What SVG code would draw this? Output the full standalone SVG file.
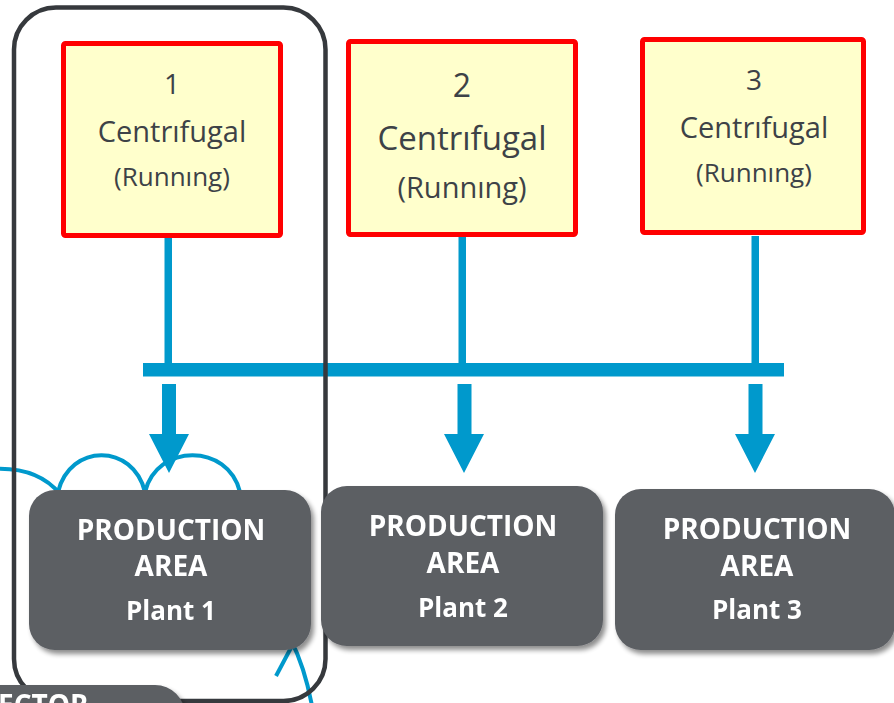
<svg xmlns="http://www.w3.org/2000/svg" width="894" height="703" viewBox="0 0 894 703">
  <defs>
    <filter id="sh" x="-10%" y="-10%" width="125%" height="130%">
      <feGaussianBlur in="SourceAlpha" stdDeviation="2.5"/>
      <feOffset dx="3" dy="4" result="b"/>
      <feComponentTransfer><feFuncA type="linear" slope="0.45"/></feComponentTransfer>
      <feMerge><feMergeNode/><feMergeNode in="SourceGraphic"/></feMerge>
    </filter>
  </defs>
  <style>
    .comp rect { fill: #ffffcc; stroke: #ff0000; stroke-width: 5; }
    .comp text { font-family: "Open Sans", "Noto Sans", sans-serif; fill: #3d4247; text-anchor: middle; }
    .area rect { fill: #5b5e63; }
    .area text { font-family: "Open Sans", "Noto Sans", sans-serif; fill: #ffffff; font-weight: bold; text-anchor: middle; }
    .blue { fill: #0099cc; }
    .wire { fill: none; stroke: #0099cc; stroke-width: 4; }
  </style>
  <rect width="894" height="703" fill="#ffffff"/>

  <g id="connectors">
    <rect class="blue" x="164.5" y="236" width="7.5" height="128"/>
    <rect class="blue" x="458.5" y="236" width="7.5" height="128"/>
    <rect class="blue" x="751.5" y="236" width="7.5" height="128"/>
    <rect class="blue" x="143" y="363" width="641" height="13.5"/>
    <polygon class="blue" points="162,384 176,384 176,434 189,434 169,473 149,434 162,434"/>
    <polygon class="blue" points="457.5,384 471.5,384 471.5,434 484,434 464,473 444,434 457.5,434"/>
    <polygon class="blue" points="748.5,384 762.5,384 762.5,434 775,434 755,473 735,434 748.5,434"/>
    <path class="wire" d="M-20,470 Q35,463 60,494"/>
    <path class="wire" d="M58,492 C70,443 133,443 145,492"/>
    <path class="wire" d="M145,492 C157,443 228,443 240,492"/>
    <path class="wire" d="M276,676 L293,644"/>
    <path class="wire" d="M291,640 Q305,668 312,706"/>
  </g>

  <g id="plant1-group">
    <rect x="14" y="7.5" width="311.5" height="693.5" rx="42" fill="none" stroke="#36393d" stroke-width="4.5"/>
  </g>

  <g id="sector" filter="url(#sh)">
    <rect x="-30" y="685" width="215" height="60" rx="30" fill="#5b5e63"/>
    <text x="-2" y="715" font-family="'Open Sans', 'Noto Sans', sans-serif" font-weight="bold" font-size="28" fill="#ffffff">ECTOR</text>
  </g>

  <g id="compressor1" class="comp">
    <rect x="63.5" y="43.5" width="217" height="192" rx="2"/>
    <text x="172" y="94" font-size="28">1</text>
    <text x="172" y="142" font-size="29">Centrıfugal</text>
    <text x="172" y="186" font-size="26">(Runnıng)</text>
  </g>
  <g id="compressor2" class="comp">
    <rect x="348.5" y="41.5" width="227" height="193" rx="2"/>
    <text x="462" y="97" font-size="32">2</text>
    <text x="462" y="150" font-size="33">Centrıfugal</text>
    <text x="462" y="198" font-size="29">(Runnıng)</text>
  </g>
  <g id="compressor3" class="comp">
    <rect x="642.5" y="39.5" width="221" height="193" rx="2"/>
    <text x="754" y="90" font-size="28">3</text>
    <text x="754" y="138" font-size="29">Centrıfugal</text>
    <text x="754" y="182" font-size="26">(Runnıng)</text>
  </g>

  <g id="area1" class="area" filter="url(#sh)">
    <rect x="29" y="490" width="282" height="160" rx="26"/>
    <text x="171" y="540" font-size="28">PRODUCTION</text>
    <text x="171" y="576" font-size="28">AREA</text>
    <text x="171" y="620" font-size="26">Plant 1</text>
  </g>
  <g id="area2" class="area" filter="url(#sh)">
    <rect x="321" y="486" width="282" height="160" rx="26"/>
    <text x="463" y="536" font-size="28">PRODUCTION</text>
    <text x="463" y="573" font-size="28">AREA</text>
    <text x="463" y="617" font-size="26">Plant 2</text>
  </g>
  <g id="area3" class="area" filter="url(#sh)">
    <rect x="615" y="489" width="280" height="161" rx="26"/>
    <text x="757" y="539" font-size="28">PRODUCTION</text>
    <text x="757" y="576" font-size="28">AREA</text>
    <text x="757" y="619" font-size="26">Plant 3</text>
  </g>
</svg>
